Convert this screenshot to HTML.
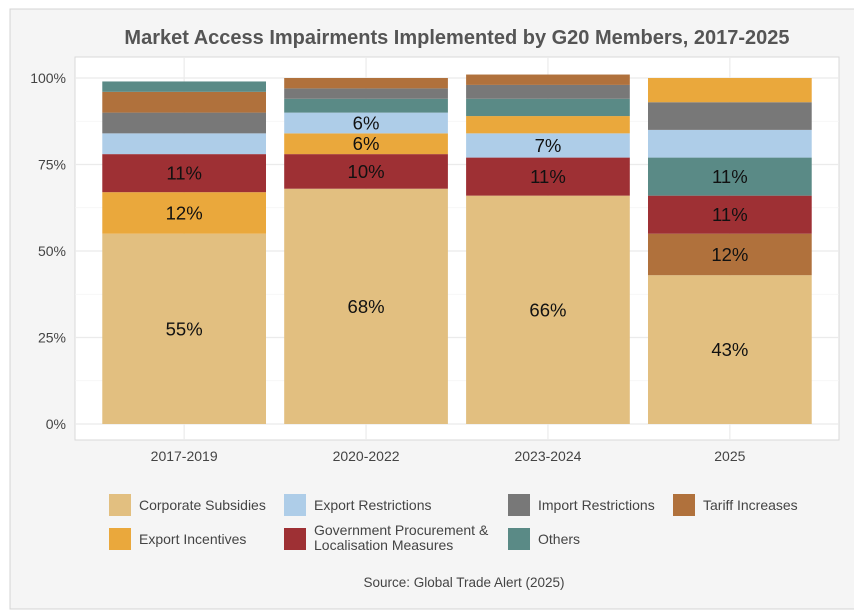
<!DOCTYPE html>
<html><head><meta charset="utf-8"><style>
body{margin:0;background:#fff;font-family:"Liberation Sans",sans-serif}
svg text{font-family:"Liberation Sans",sans-serif}
</style></head><body>
<svg id="chart" width="854" height="611" xmlns="http://www.w3.org/2000/svg">
<rect x="10" y="9" width="850" height="600" fill="#f5f5f5" stroke="#d4d4d4"/>
<text x="457" y="44" text-anchor="middle" font-size="20" font-weight="bold" fill="#555">Market Access Impairments Implemented by G20 Members, 2017-2025</text>
<rect x="75" y="57" width="764" height="383" fill="#fff" stroke="#d9d9d9"/>
<g id="grid"></g><g id="bars"></g><g id="axes"></g><g id="legend"></g>
<text x="464" y="587" text-anchor="middle" font-size="13.5" fill="#444">Source: Global Trade Alert (2025)</text>
</svg>
<script>
const categories = ["2017-2019","2020-2022","2023-2024","2025"];
const seriesNames = ["Corporate Subsidies","Export Incentives","Government Procurement & Localisation Measures","Export Restrictions","Import Restrictions","Tariff Increases","Others"];
const stackOrder1 = ["Corporate Subsidies","Export Incentives","Government Procurement & Localisation Measures","Export Restrictions","Import Restrictions","Tariff Increases","Others"];
const values1 = [55,12,11,6,6,6,3];
const stackOrder2 = ["Corporate Subsidies","Government Procurement & Localisation Measures","Export Incentives","Export Restrictions","Others","Import Restrictions","Tariff Increases"];
const values2 = [68,10,6,6,4,3,3];
const stackOrder3 = ["Corporate Subsidies","Government Procurement & Localisation Measures","Export Restrictions","Export Incentives","Others","Import Restrictions","Tariff Increases"];
const values3 = [66,11,7,5,5,4,3];
const stackOrder4 = ["Corporate Subsidies","Tariff Increases","Government Procurement & Localisation Measures","Others","Export Restrictions","Import Restrictions","Export Incentives"];
const values4 = [43,12,11,11,8,8,7];
const yTicks = [0,25,50,75,100];
const labelThreshold = 6;
const colors = {"Corporate Subsidies":"#e2bf80","Export Incentives":"#eaa83c","Government Procurement & Localisation Measures":"#9e3034","Export Restrictions":"#aecde8","Import Restrictions":"#787878","Tariff Increases":"#b0713c","Others":"#5a8a86"};
const NS="http://www.w3.org/2000/svg";
const px0=75,pw=764,py0=424,pyH=78;
const unit=pw/4.2;
const x=i=>px0+(i+0.6)*unit;
const y=v=>py0-(v/100)*(py0-pyH);
function mk(t,a,p){const e=document.createElementNS(NS,t);for(const k in a)e.setAttribute(k,a[k]);p.appendChild(e);return e;}
const grid=document.getElementById('grid'),bars=document.getElementById('bars'),axes=document.getElementById('axes'),legend=document.getElementById('legend');
yTicks.forEach((t,i)=>{
  const l=mk('line',{x1:px0,x2:px0+pw,y1:y(t),y2:y(t),stroke:'#ebebeb','stroke-width':1.2},grid);
  
  
  if(i<yTicks.length-1){const m=mk('line',{x1:px0,x2:px0+pw,y1:y(t+12.5),y2:y(t+12.5),stroke:'#f4f4f4','stroke-width':0.8},grid);
  
  }
  const tx=mk('text',{x:66,y:y(t)+5,'text-anchor':'end','font-size':14,fill:'#444'},axes);tx.textContent=t+'%';
  
  
});
const orders=[stackOrder1,stackOrder2,stackOrder3,stackOrder4],vals=[values1,values2,values3,values4];
categories.forEach((c,i)=>{
  const g=mk('line',{x1:x(i),x2:x(i),y1:57,y2:440,stroke:'#ebebeb','stroke-width':1.2},grid);
  
  
  let cum=0;const bw=unit*0.9;
  orders[i].forEach((s,j)=>{
    const v=vals[i][j];
    const r=mk('rect',{x:x(i)-bw/2,y:y(cum+v),width:bw,height:y(cum)-y(cum+v),fill:colors[s]},bars);
    
    
    if(v>=labelThreshold && !(i===0&&j>=3) && !(i===3&&j>=4) && !(i===2&&j>=3)){
      const t=mk('text',{x:x(i),y:(y(cum)+y(cum+v))/2+6.5,'text-anchor':'middle','font-size':18.5,fill:'#111'},bars);t.textContent=v+'%';
      
      
    }
    cum+=v;
  });
  const t=mk('text',{x:x(i),y:461,'text-anchor':'middle','font-size':14,fill:'#444'},axes);t.textContent=c;
  
  
});
const legItems=[["Corporate Subsidies",109,494],["Export Restrictions",284,494],["Import Restrictions",508,494],["Tariff Increases",673,494],["Export Incentives",109,528],["Government Procurement & Localisation Measures",284,528],["Others",508,528]];
legItems.forEach(([s,lx,ly])=>{
  const r=mk('rect',{x:lx,y:ly,width:22,height:22,fill:colors[s]},legend);
  
  
  if(s.startsWith('Government')){
    ['Government Procurement &','Localisation Measures'].forEach((ln,k)=>{const t=mk('text',{x:lx+30,y:ly+7+k*15,'font-size':14,fill:'#444'},legend);t.textContent=ln;
    
    });
  } else {
    const t=mk('text',{x:lx+30,y:ly+16,'font-size':14,fill:'#444'},legend);t.textContent=s;
    
    
  }
});
</script>
</body></html>
